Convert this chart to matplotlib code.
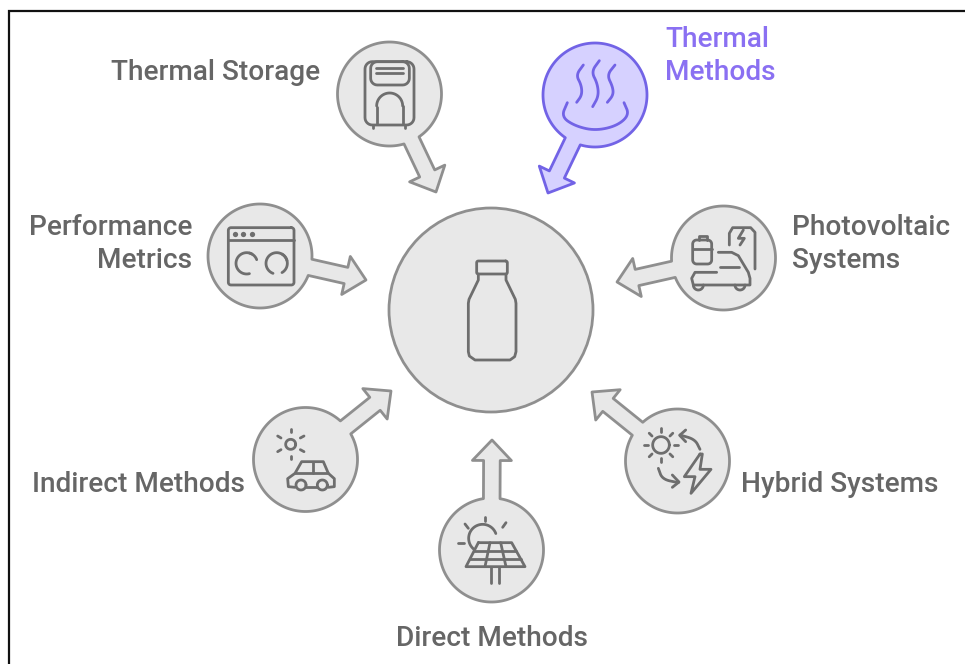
#!/usr/bin/env python3
"""Hub diagram: seven round nodes with arrows pointing at a central bottle."""

import matplotlib

matplotlib.use("Agg")
import matplotlib.pyplot as plt
import numpy as np
from matplotlib.patches import Circle, Polygon

plt.rcParams["font.family"] = ["Roboto", "DejaVu Sans"]

# node geometry in pixels
node_names = ["storage", "thermal", "performance", "photovoltaic", "indirect", "direct", "hybrid"]
node_x = [389.5, 595, 260, 723.5, 305.5, 491.5, 677.5]
node_y = [94, 95, 256, 258, 459.5, 550, 461]
tip_x = [436, 548, 366, 617, 391, 492, 592]
tip_y = [192, 193, 280, 282, 391, 440, 392]
node_r = 52
hub_x, hub_y, hub_r = 491, 310, 102

label_text = ["Thermal Storage", "Thermal\nMethods", "Performance\nMetrics", "Photovoltaic\nSystems",
              "Indirect Methods", "Direct Methods", "Hybrid Systems"]
label_x = [320, 665, 192, 792, 32, 492, 741]
label_y = [73, 56, 244, 244, 484, 638, 484]
label_ha = ["right", "left", "right", "left", "left", "center", "left"]

GREY_FILL, GREY_EDGE = "#e8e8e8", "#8f8f8f"
PURPLE_FILL, PURPLE_EDGE = "#d6d1ff", "#7263e6"
ICON, PURPLE_ICON = "#6e6e6e", "#7263e6"
TEXT, PURPLE_TEXT = "#666666", "#8a70f2"
ICON_LW = 2.0

fig = plt.figure(figsize=(9.65, 6.64), dpi=100)
ax = fig.add_axes([0, 0, 1, 1])
ax.set_xlim(0, 965)
ax.set_ylim(664, 0)
ax.axis("off")


def balloon(cx, cy, r, tx, ty, fill, edge, shaft=8.3, head=19.5, head_len=20.5):
    """Circle and arrow as one outline, so no line crosses the joint."""
    ang = np.arctan2(ty - cy, tx - cx)
    d = np.arcsin(shaft / r)
    t = np.linspace(ang + d, ang + 2 * np.pi - d, 160)
    arc_pts = np.c_[cx + r * np.cos(t), cy + r * np.sin(t)]
    u = np.array([np.cos(ang), np.sin(ang)])
    n = np.array([-u[1], u[0]])
    tip = np.array([tx, ty], dtype=float)
    base = tip - u * head_len
    arrow = [base - n * shaft, base - n * head, tip, base + n * head, base + n * shaft]
    ax.add_patch(Polygon(np.vstack([arc_pts, arrow]), closed=True, facecolor=fill, edgecolor=edge,
                         lw=2.0, joinstyle="round", zorder=2))


def smooth(pts, n=3):
    # Chaikin corner cutting, end points stay put
    p = np.asarray(pts, dtype=float)
    for _ in range(n):
        q = p[:-1] * 0.75 + p[1:] * 0.25
        r = p[:-1] * 0.25 + p[1:] * 0.75
        mid = np.empty((len(q) + len(r), 2))
        mid[0::2] = q
        mid[1::2] = r
        p = np.vstack([p[:1], mid, p[-1:]])
    return p


def line(org, pts, col=ICON, lw=ICON_LW, soft=False):
    """pts are in 3x zoom-crop coordinates, org is the crop origin."""
    p = smooth(pts) if soft else np.asarray(pts, dtype=float)
    ax.plot(org[0] + p[:, 0] / 3, org[1] + p[:, 1] / 3, color=col, lw=lw,
            solid_capstyle="round", solid_joinstyle="round", zorder=3)


def arc(org, cx, cy, r, a0, a1, col=ICON, lw=ICON_LW):
    t = np.radians(np.linspace(a0, a1, 40))
    line(org, np.c_[cx + r * np.cos(t), cy + r * np.sin(t)], col, lw)


def box(org, x0, y0, x1, y1, rad=10, col=ICON, lw=ICON_LW):
    # rounded rectangle
    pts = []
    for cx, cy, a in ((x1 - rad, y0 + rad, -90), (x1 - rad, y1 - rad, 0),
                      (x0 + rad, y1 - rad, 90), (x0 + rad, y0 + rad, 180)):
        t = np.radians(np.linspace(a, a + 90, 8))
        pts.append(np.c_[cx + rad * np.cos(t), cy + rad * np.sin(t)])
    pts = np.vstack(pts)
    line(org, np.vstack([pts, pts[:1]]), col, lw)


def dot(org, x, y, col=ICON, size=2.4):
    ax.plot(org[0] + x / 3, org[1] + y / 3, "o", ms=size, color=col, mec="none", zorder=3)


def icon_bottle():
    o = (380, 200)
    box(o, 290, 183, 382, 222, rad=5)
    line(o, [(295, 222), (295, 240), (267, 298), (265, 310), (265, 455), (268, 468), (285, 480),
             (390, 480), (404, 470), (408, 455), (408, 310), (406, 298), (378, 240), (378, 222)])


def icon_storage():
    o = (330, 20)
    box(o, 105, 125, 252, 315, rad=22)
    box(o, 122, 125, 238, 195, rad=20)
    line(o, [(138, 143), (220, 143)])
    line(o, [(138, 160), (220, 160)])
    line(o, [(140, 312), (140, 262)])
    arc(o, 179, 258, 39, 180, 360)
    line(o, [(218, 258), (218, 312)])
    line(o, [(130, 315), (130, 323)])
    line(o, [(225, 315), (225, 323)])


def icon_thermal():
    o = (330, 20)
    c = PURPLE_ICON
    line(o, [(760, 135), (738, 165), (754, 195), (756, 225), (740, 247)], c, soft=True)
    line(o, [(808, 122), (784, 155), (802, 190), (806, 228), (788, 260)], c, soft=True)
    line(o, [(855, 135), (831, 165), (848, 200), (850, 225), (832, 247)], c, soft=True)
    line(o, [(712, 248), (694, 290), (735, 318), (795, 332), (860, 318), (898, 285), (882, 248)], c, soft=True)


def icon_performance():
    o = (200, 195)
    box(o, 85, 98, 282, 270, rad=8)
    line(o, [(85, 135), (282, 135)])
    for x in (105, 130, 155):
        dot(o, x, 118, size=3.8)
    arc(o, 140, 205, 32, 75, 300)
    arc(o, 140, 205, 32, -75, -20)
    arc(o, 230, 205, 32, 110, 345)
    arc(o, 230, 205, 32, -60, 60)


def icon_photovoltaic():
    o = (610, 195)
    box(o, 248, 135, 305, 207, rad=12)
    line(o, [(268, 135), (268, 122), (290, 122), (290, 135)])
    line(o, [(248, 162), (305, 162)])
    line(o, [(358, 150), (358, 115), (368, 98), (422, 98), (435, 112), (435, 222)])
    line(o, [(400, 105), (385, 130), (403, 130), (390, 150)])
    line(o, [(325, 172), (365, 172), (385, 182), (415, 232), (420, 250), (420, 270), (250, 270),
             (245, 250), (255, 232), (320, 232)])
    line(o, [(330, 215), (388, 215)])
    arc(o, 265, 270, 15, 0, 180)
    arc(o, 390, 270, 15, 0, 180)


def icon_indirect():
    o = (245, 380)
    arc(o, 137, 193, 15, 0, 360)
    line(o, [(137, 146), (137, 156)])
    line(o, [(137, 228), (137, 238)])
    line(o, [(98, 168), (108, 174)])
    line(o, [(166, 174), (177, 168)])
    line(o, [(98, 215), (108, 209)])
    line(o, [(166, 209), (177, 215)])
    line(o, [(150, 322), (130, 320), (128, 296), (150, 280), (170, 245), (235, 245), (250, 280),
             (268, 296), (268, 320), (250, 322)])
    line(o, [(150, 280), (250, 280)])
    line(o, [(205, 245), (205, 280)])
    line(o, [(184, 322), (216, 322)])
    arc(o, 168, 315, 15, 0, 360)
    arc(o, 232, 315, 15, 0, 360)


def icon_direct():
    o = (430, 430)
    arc(o, 158, 325, 42, 130, 340)
    line(o, [(165, 260), (165, 272)])
    line(o, [(105, 282), (115, 295)])
    line(o, [(228, 278), (218, 292)])
    line(o, [(85, 340), (102, 340)])
    line(o, [(145, 338), (245, 338), (285, 410), (108, 410), (145, 338)])
    line(o, [(132, 362), (258, 362)])
    line(o, [(120, 386), (272, 386)])
    line(o, [(180, 338), (165, 410)])
    line(o, [(212, 338), (228, 410)])
    line(o, [(182, 410), (182, 460)])
    line(o, [(208, 410), (208, 460)])


def icon_hybrid():
    o = (585, 380)
    arc(o, 228, 195, 25, 0, 360)
    for a in np.radians(np.arange(0, 360, 45)):
        line(o, [(228 + 38 * np.cos(a), 195 + 38 * np.sin(a)), (228 + 50 * np.cos(a), 195 + 50 * np.sin(a))])
    line(o, [(345, 208), (330, 178), (285, 165)], soft=True)
    line(o, [(302, 150), (284, 166), (302, 185)])
    line(o, [(220, 265), (232, 298), (280, 308)], soft=True)
    line(o, [(262, 285), (282, 306), (262, 322)])
    line(o, [(345, 222), (298, 290), (330, 290), (318, 340), (378, 268), (345, 268), (352, 222), (345, 222)])


icons = [icon_storage, icon_thermal, icon_performance, icon_photovoltaic, icon_indirect, icon_direct, icon_hybrid]

# frame: only the top and left edges are in the crop
ax.plot([965, 9, 9], [11, 11, 664], color="#111111", lw=1.6, solid_joinstyle="miter", zorder=1)

ax.add_patch(Circle((hub_x, hub_y), hub_r, facecolor=GREY_FILL, edgecolor=GREY_EDGE, lw=2.0, zorder=2))
icon_bottle()

for i, name in enumerate(node_names):
    hot = name == "thermal"
    balloon(node_x[i], node_y[i], node_r, tip_x[i], tip_y[i],
            PURPLE_FILL if hot else GREY_FILL, PURPLE_EDGE if hot else GREY_EDGE)
    icons[i]()
    ax.text(label_x[i], label_y[i], label_text[i], ha=label_ha[i], va="center", fontsize=20.2,
            fontweight="medium", color=PURPLE_TEXT if hot else TEXT, linespacing=1.27,
            multialignment=label_ha[i], zorder=4)

fig.savefig("out.png", dpi=100, facecolor="white")
plt.close(fig)
